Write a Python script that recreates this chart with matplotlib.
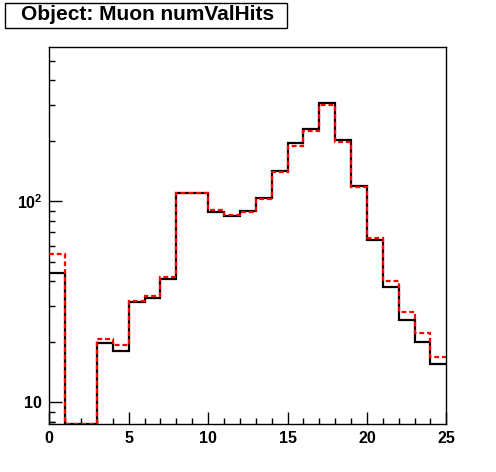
import numpy as np
import matplotlib
matplotlib.use("Agg")
import matplotlib.pyplot as plt
from matplotlib.ticker import FixedLocator, FixedFormatter, MultipleLocator

plt.rcParams['font.family'] = 'Liberation Sans'
plt.rcParams['font.weight'] = 'bold'
plt.rcParams['mathtext.fontset'] = 'custom'
plt.rcParams['mathtext.rm'] = 'Liberation Sans:bold'
plt.rcParams['mathtext.bf'] = 'Liberation Sans:bold'

# histogram contents, bins of width 1 from 0 to 25
edges = np.arange(0, 26)
black_counts = [44, 0, 0, 19.7, 18.0, 31.6, 33.0, 41, 110, 110, 89, 85, 89.5, 104, 142,
                195, 229, 310, 201, 119, 64.5, 37.6, 25.7, 20.0, 15.5]
red_counts = [55, 0, 0, 20.6, 19.3, 32, 34, 42, 110, 110, 91, 86, 89, 103, 140,
              188, 225, 303, 198, 118, 65.5, 40, 28.1, 22.2, 16.8]
title = "Object: Muon numValHits"

ymin, ymax = 7.83, 584

fig = plt.figure(figsize=(4.96, 4.72), dpi=100)
ax = fig.add_axes([0.0994, 0.1023, 0.9998 - 0.0994 - 0.1, 0.8998 - 0.1023])

ax.stairs(np.maximum(black_counts, ymin * 0.999), edges, baseline=None,
          color='black', lw=1.6, zorder=2)
ax.stairs(np.maximum(red_counts, ymin * 0.999), edges, baseline=None,
          color='red', lw=1.6, linestyle=(0, (2.2, 1.3)), zorder=3)

ax.set_yscale('log')
ax.set_xlim(0, 25)
ax.set_ylim(ymin, ymax)

ax.xaxis.set_major_locator(MultipleLocator(5))
ax.xaxis.set_minor_locator(MultipleLocator(1))
ax.yaxis.set_major_locator(FixedLocator([10, 100]))
ax.yaxis.set_major_formatter(FixedFormatter(['10', r'$\mathbf{10^2}$']))
minor = [m * d for d in (1, 10, 100) for m in range(2, 10)]
ax.yaxis.set_minor_locator(FixedLocator(minor + [8]))
ax.yaxis.set_minor_formatter(FixedFormatter([''] * 30))

ax.tick_params(which='both', direction='in', top=False, right=False, width=1.0,
               labelsize=11.5)
ax.tick_params(axis='x', which='major', length=8.5, pad=5)
ax.tick_params(axis='x', which='minor', length=4.5)
ax.tick_params(axis='y', which='major', length=9, pad=5)
ax.tick_params(axis='y', which='minor', length=4.5)
for lab in ax.get_xticklabels() + ax.get_yticklabels():
    lab.set_fontweight('bold')
for s in ax.spines.values():
    s.set_linewidth(1.0)

fig.text(148 / 496, 1 - 15 / 472, title, ha='center', va='center',
         fontsize=15, fontweight='bold')
fig.patches.append(plt.Rectangle((4.5 / 496, 1 - 27.5 / 472), 282.5 / 496, 25 / 472,
                                 transform=fig.transFigure, fill=False,
                                 edgecolor='black', lw=1.0))

fig.savefig('out.png', dpi=100)
